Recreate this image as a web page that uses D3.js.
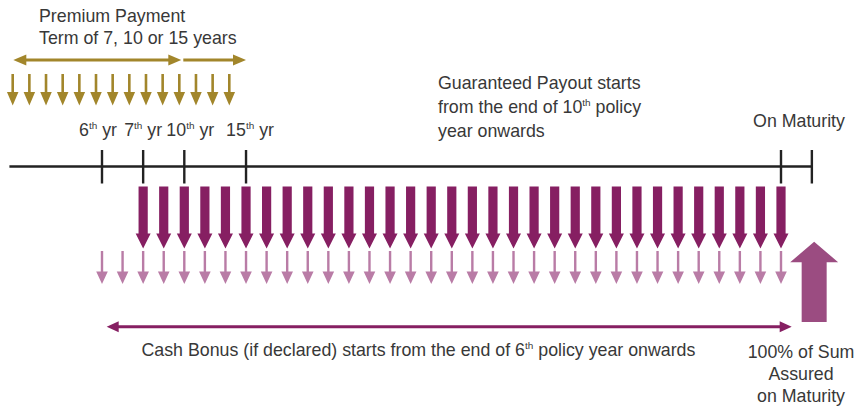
<!DOCTYPE html>
<html>
<head>
<meta charset="utf-8">
<script src="https://cdn.jsdelivr.net/npm/d3@7"></script>
<style>
  html, body { margin: 0; padding: 0; background: #fff; }
  svg { display: block; font-family: "Liberation Sans", Arial, sans-serif; }
</style>
</head>
<body>
<svg id="chart" width="857" height="406"></svg>
<script>
// ---------------- data ----------------
// Timeline slots: one slot per cash-bonus payout (slot 0 = end of 6th policy year)
const tickLabels = [["6", "th", " yr"], ["7", "th", " yr"], ["10", "th", " yr"], ["15", "th", " yr"]];
const tickSlots = [0, 2, 4, 7];
const maturitySlot = 33;
const timelineEndSlot = 34.5;
const timelineStartSlot = -4.5;
// premium instalments (14 drawn)
const premiumInstalments = [0, 1, 2, 3, 4, 5, 6, 7, 8, 9, 10, 11, 12, 13];
// premium payment term arrows end at the 10th-yr and 15th-yr ticks
const premiumTermSlots = [4, 7];
// guaranteed payouts from 7th-yr tick up to maturity
const payoutSlots = [2, 3, 4, 5, 6, 7, 8, 9, 10, 11, 12, 13, 14, 15, 16, 17, 18, 19, 20, 21, 22, 23, 24, 25, 26, 27, 28, 29, 30, 31, 32, 33];
// cash bonus payouts from 6th-yr tick up to maturity
const bonusSlots = [0, 1, 2, 3, 4, 5, 6, 7, 8, 9, 10, 11, 12, 13, 14, 15, 16, 17, 18, 19, 20, 21, 22, 23, 24, 25, 26, 27, 28, 29, 30, 31, 32, 33];
const premiumTitle = ["Premium Payment", "Term of 7, 10 or 15 years"];
const payoutNote = [["Guaranteed Payout starts"], ["from the end of 10", "th", " policy"], ["year onwards"]];
const bonusNote = ["Cash Bonus (if declared) starts from the end of 6", "th", " policy year onwards"];
const maturityLabel = "On Maturity";
const maturityBenefit = ["100% of Sum", "Assured", "on Maturity"];

// ---------------- styles ----------------
const GOLD = "#A2862B";
const PLUM = "#861F62";
const PINK = "#B97CA6";
const MAUVE = "#9B4C81";
const INK = "#222";
const TEXT = "#383838";
const FS = 17.8;

const svg = d3.select("#chart");

// scales
const x = d3.scaleLinear().domain([0, maturitySlot]).range([102, 781]);
const xp = d3.scaleLinear().domain([0, 13]).range([12.7, 229.3]);

function hHead(tipX, y, dir, len, half) {
  return `M${tipX},${y} L${tipX - dir * len},${y - half} L${tipX - dir * len},${y + half} Z`;
}
function vDownArrow(cx, top, headTop, tip, shaftW, headW) {
  return `M${cx - shaftW / 2},${top} L${cx + shaftW / 2},${top} L${cx + shaftW / 2},${headTop}
          L${cx + headW / 2},${headTop} L${cx},${tip} L${cx - headW / 2},${headTop}
          L${cx - shaftW / 2},${headTop} Z`;
}

// ---------- premium title ----------
svg.append("text").attr("x", 39).attr("y", 22).attr("font-size", FS).attr("fill", TEXT).text(premiumTitle[0]);
svg.append("text").attr("x", 39).attr("y", 43.5).attr("font-size", FS).attr("fill", TEXT).text(premiumTitle[1]);

// premium term arrows
const yT = 60;
const gT = svg.append("g");
gT.append("line").attr("x1", 20).attr("x2", x(premiumTermSlots[0]) - 10).attr("y1", yT).attr("y2", yT)
  .attr("stroke", GOLD).attr("stroke-width", 3);
gT.append("path").attr("d", hHead(13.3, yT, -1, 13, 5.5)).attr("fill", GOLD);
gT.append("path").attr("d", hHead(x(premiumTermSlots[0]) - 3, yT, 1, 13, 5.5)).attr("fill", GOLD);
gT.append("line").attr("x1", x(premiumTermSlots[0]) - 1).attr("x2", x(premiumTermSlots[1]) - 8).attr("y1", yT).attr("y2", yT)
  .attr("stroke", GOLD).attr("stroke-width", 3);
gT.append("path").attr("d", hHead(x(premiumTermSlots[1]), yT, 1, 13, 5.5)).attr("fill", GOLD);

// premium instalment arrows
svg.append("g").selectAll("path").data(premiumInstalments).join("path")
  .attr("d", d => vDownArrow(xp(d), 74, 92, 105.5, 2.6, 11.5))
  .attr("fill", GOLD);

// ---------- timeline ----------
const yL = 166.5;
svg.append("line").attr("x1", x(timelineStartSlot)).attr("x2", x(timelineEndSlot))
  .attr("y1", yL).attr("y2", yL).attr("stroke", INK).attr("stroke-width", 2.6);
svg.append("g").selectAll("line").data(tickSlots.concat([maturitySlot, timelineEndSlot])).join("line")
  .attr("x1", d => x(d)).attr("x2", d => x(d)).attr("y1", 150).attr("y2", 183.5)
  .attr("stroke", INK).attr("stroke-width", 2.4);

// tick labels
const tickOffsets = [-4, 0, 6, 4];
const tl = svg.append("g").selectAll("text").data(tickLabels).join("text")
  .attr("x", (d, i) => x(tickSlots[i]) + tickOffsets[i]).attr("y", 136)
  .attr("text-anchor", "middle").attr("font-size", FS).attr("fill", TEXT);
tl.append("tspan").text(d => d[0]);
tl.append("tspan").attr("font-size", FS * 0.56).attr("dy", -7).text(d => d[1]);
tl.append("tspan").attr("dy", 7).text(d => d[2]);

svg.append("text").attr("x", 799).attr("y", 127).attr("text-anchor", "middle")
  .attr("font-size", FS).attr("fill", TEXT).text(maturityLabel);

// guaranteed payout note
const gn = svg.append("text").attr("font-size", FS).attr("fill", TEXT);
payoutNote.forEach((parts, i) => {
  const y = 89 + i * 24;
  gn.append("tspan").attr("x", 438).attr("y", y).text(parts[0]);
  if (parts.length > 1) {
    gn.append("tspan").attr("font-size", FS * 0.56).attr("dy", -7).text(parts[1]);
    gn.append("tspan").attr("dy", 7).text(parts[2]);
  }
});

// ---------- guaranteed payout arrows ----------
svg.append("g").selectAll("path").data(payoutSlots).join("path")
  .attr("d", d => vDownArrow(x(d), 186.5, 233.5, 248.5, 9.2, 15))
  .attr("fill", PLUM);

// ---------- cash bonus arrows ----------
svg.append("g").selectAll("path").data(bonusSlots).join("path")
  .attr("d", d => vDownArrow(x(d), 251, 271.5, 284, 2.4, 11.6))
  .attr("fill", PINK);

// ---------- maturity benefit up arrow ----------
const xm = x(timelineEndSlot) + 2.3;
svg.append("path")
  .attr("d", `M${xm - 12.5},322 L${xm + 12.5},322 L${xm + 12.5},262.3 L${xm + 24},262.3 L${xm},241.7 L${xm - 24},262.3 L${xm - 12.5},262.3 Z`)
  .attr("fill", MAUVE);

// ---------- cash bonus span arrow ----------
const yB = 326.8;
const bx1 = x(bonusSlots[0]) + 4.7, bx2 = x(maturitySlot) + 10.7;
svg.append("line").attr("x1", bx1 + 6).attr("x2", bx2 - 6).attr("y1", yB).attr("y2", yB)
  .attr("stroke", PLUM).attr("stroke-width", 3);
svg.append("path").attr("d", hHead(bx1, yB, -1, 12, 5.5)).attr("fill", PLUM);
svg.append("path").attr("d", hHead(bx2, yB, 1, 12, 5.5)).attr("fill", PLUM);

const bn = svg.append("text").attr("x", 141.5).attr("y", 355.5).attr("font-size", FS).attr("fill", TEXT);
bn.append("tspan").text(bonusNote[0]);
bn.append("tspan").attr("font-size", FS * 0.56).attr("dy", -7).text(bonusNote[1]);
bn.append("tspan").attr("dy", 7).text(bonusNote[2]);

// maturity benefit label
svg.append("g").selectAll("text").data(maturityBenefit).join("text")
  .attr("x", 801).attr("y", (d, i) => 358 + i * 22).attr("text-anchor", "middle")
  .attr("font-size", FS).attr("fill", TEXT).text(d => d);
</script>
</body>
</html>
